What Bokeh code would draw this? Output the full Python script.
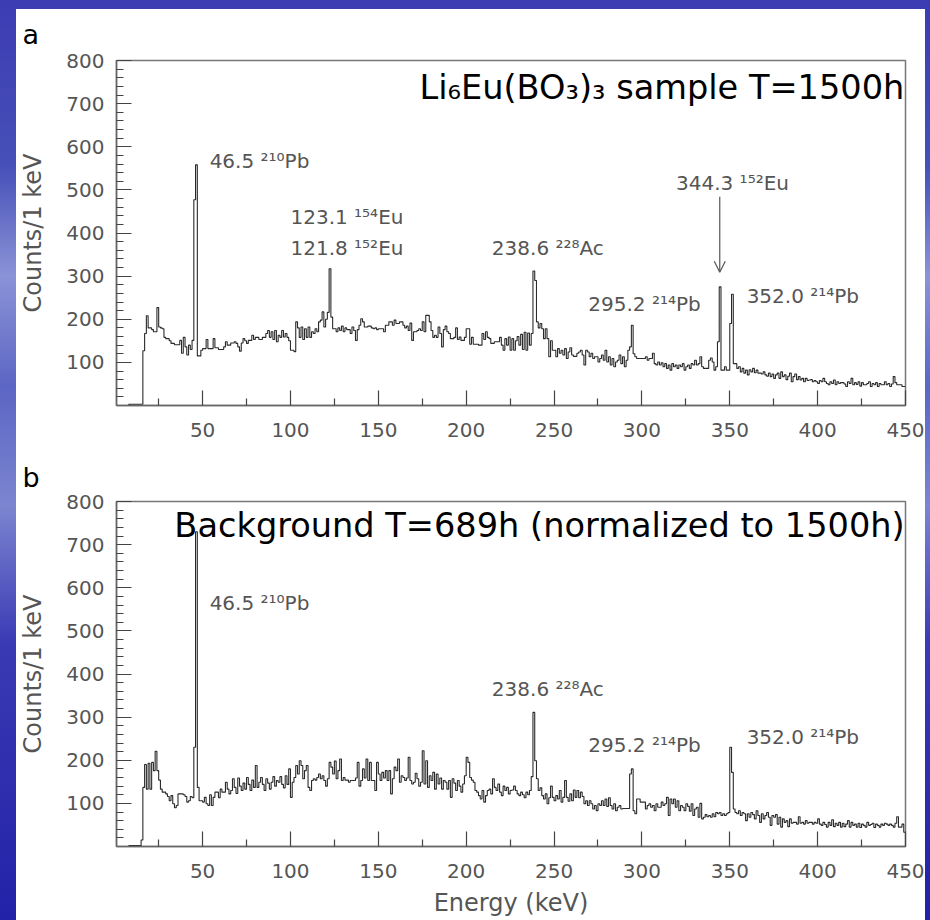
from bokeh.plotting import figure
from bokeh.layouts import column
from bokeh.models import Range1d, FixedTicker, Label, Arrow, OpenHead
from bokeh.core.properties import value
from bokeh.embed import file_html
from bokeh.resources import INLINE

# ---------------- data ----------------
first_bin_keV = 1  # lower edge of the first 1 keV bin

# Li6Eu(BO3)3 sample, T=1500h, counts per 1 keV bin (bins 1..449 keV)
sample_counts = [
    0, 0, 0, 0, 0, 0, 0, 3, 3, 3,
    3, 3, 3, 3, 3, 127, 167, 208, 180, 180,
    176, 171, 171, 227, 182, 180, 178, 158, 155, 155,
    150, 144, 144, 141, 141, 141, 151, 121, 158, 136,
    117, 140, 130, 151, 477, 558, 115, 115, 128, 132,
    132, 153, 132, 132, 132, 155, 134, 134, 130, 130,
    130, 136, 148, 140, 140, 145, 145, 148, 144, 136,
    126, 145, 155, 150, 144, 151, 151, 163, 153, 158,
    158, 153, 153, 158, 158, 167, 174, 158, 171, 153,
    174, 148, 163, 158, 174, 159, 167, 158, 150, 128,
    128, 125, 194, 180, 158, 182, 153, 178, 158, 182,
    158, 171, 167, 178, 171, 194, 198, 217, 182, 200,
    216, 317, 205, 178, 178, 171, 180, 174, 184, 171,
    180, 176, 176, 167, 182, 174, 151, 176, 186, 201,
    194, 182, 182, 184, 184, 180, 178, 180, 176, 178,
    178, 178, 171, 186, 186, 194, 194, 186, 198, 190,
    190, 194, 194, 186, 180, 184, 174, 191, 151, 171,
    171, 174, 178, 174, 194, 171, 209, 209, 194, 174,
    158, 163, 158, 182, 167, 136, 176, 184, 171, 167,
    155, 155, 158, 180, 153, 159, 151, 151, 158, 178,
    178, 142, 158, 142, 142, 142, 140, 140, 167, 153,
    171, 158, 155, 144, 144, 148, 148, 148, 158, 140,
    128, 155, 140, 159, 128, 155, 128, 150, 160, 140,
    165, 130, 170, 128, 168, 140, 167, 312, 290, 194,
    180, 190, 178, 155, 178, 155, 113, 150, 128, 128,
    113, 132, 121, 128, 117, 132, 109, 124, 134, 117,
    114, 114, 121, 124, 128, 117, 94, 128, 124, 113,
    121, 109, 113, 113, 101, 109, 117, 105, 128, 101,
    113, 94, 109, 90, 101, 105, 117, 97, 113, 90,
    105, 128, 136, 186, 120, 113, 109, 109, 109, 109,
    109, 113, 105, 109, 109, 121, 97, 94, 101, 94,
    99, 90, 97, 86, 94, 82, 97, 90, 94, 86,
    94, 90, 97, 82, 90, 94, 86, 97, 94, 105,
    94, 97, 113, 90, 86, 86, 86, 105, 110, 101,
    82, 90, 148, 275, 82, 82, 90, 82, 82, 190,
    258, 97, 97, 86, 90, 78, 86, 75, 82, 71,
    83, 78, 86, 76, 82, 75, 75, 73, 78, 71,
    68, 75, 67, 73, 63, 71, 75, 63, 78, 67,
    71, 60, 68, 75, 55, 67, 73, 60, 67, 59,
    63, 55, 63, 58, 59, 60, 55, 58, 55, 51,
    58, 55, 63, 55, 51, 48, 55, 51, 59, 48,
    55, 51, 53, 53, 50, 44, 55, 51, 63, 48,
    53, 49, 55, 45, 53, 48, 48, 51, 55, 44,
    51, 48, 53, 44, 51, 48, 48, 55, 48, 51,
    44, 50, 67, 53, 48, 48, 48, 44, 44,
]

# Background, T=689h normalized to 1500h, counts per 1 keV bin (bins 1..449 keV)
background_counts = [
    0, 0, 0, 0, 0, 0, 0, 2, 2, 2,
    2, 2, 2, 2, 15, 137, 190, 133, 193, 133,
    195, 176, 221, 176, 154, 133, 126, 126, 122, 116,
    106, 118, 99, 90, 95, 122, 122, 122, 120, 116,
    103, 106, 116, 113, 230, 730, 137, 106, 106, 103,
    114, 99, 95, 120, 95, 114, 126, 126, 113, 133,
    126, 126, 149, 133, 122, 130, 157, 137, 123, 159,
    140, 130, 147, 133, 160, 144, 130, 154, 137, 188,
    137, 149, 160, 144, 130, 157, 147, 133, 149, 162,
    140, 153, 149, 162, 144, 136, 164, 144, 180, 114,
    149, 160, 188, 168, 199, 188, 157, 176, 188, 137,
    130, 153, 157, 154, 160, 168, 157, 164, 153, 140,
    157, 195, 184, 168, 198, 157, 176, 203, 153, 160,
    154, 154, 149, 153, 153, 153, 159, 195, 140, 153,
    180, 159, 203, 153, 195, 153, 153, 130, 195, 168,
    153, 172, 159, 176, 153, 176, 122, 157, 184, 176,
    203, 149, 164, 160, 153, 159, 207, 153, 145, 149,
    170, 157, 140, 149, 222, 145, 199, 137, 164, 153,
    172, 133, 168, 145, 159, 133, 153, 149, 133, 153,
    114, 157, 147, 130, 153, 140, 126, 145, 164, 207,
    195, 160, 154, 149, 130, 126, 118, 110, 130, 103,
    118, 130, 133, 122, 157, 137, 130, 145, 126, 118,
    140, 130, 137, 122, 130, 131, 140, 130, 122, 118,
    126, 120, 113, 126, 120, 130, 162, 311, 199, 157,
    130, 136, 118, 110, 122, 99, 113, 140, 114, 106,
    118, 110, 130, 103, 114, 153, 114, 105, 122, 106,
    131, 114, 130, 113, 126, 116, 99, 106, 95, 106,
    99, 87, 95, 83, 99, 95, 106, 95, 110, 93,
    113, 95, 87, 99, 83, 91, 95, 87, 88, 88,
    88, 88, 168, 180, 83, 76, 110, 110, 103, 103,
    103, 87, 95, 99, 91, 95, 83, 99, 91, 91,
    103, 95, 99, 114, 72, 110, 99, 110, 91, 106,
    83, 95, 91, 83, 99, 93, 82, 99, 72, 87,
    91, 68, 100, 64, 68, 74, 69, 72, 68, 76,
    69, 79, 76, 79, 72, 76, 72, 76, 79, 230,
    172, 87, 79, 76, 83, 72, 79, 76, 60, 76,
    68, 79, 74, 64, 83, 72, 56, 76, 64, 72,
    79, 68, 49, 72, 68, 74, 52, 68, 45, 64,
    56, 60, 46, 64, 54, 56, 56, 52, 69, 54,
    56, 52, 60, 54, 56, 56, 52, 56, 54, 64,
    52, 49, 56, 51, 45, 56, 49, 62, 46, 54,
    49, 56, 45, 54, 46, 52, 60, 45, 56, 49,
    52, 45, 54, 44, 52, 49, 45, 56, 49, 51,
    54, 44, 52, 49, 45, 52, 49, 54, 52, 49,
    52, 49, 45, 54, 69, 45, 45, 52, 33,
]

x_major_ticks = [50, 100, 150, 200, 250, 300, 350, 400, 450]
x_minor_ticks = [25, 75, 125, 175, 225, 275, 325, 375, 425]
y_major_ticks = [100, 200, 300, 400, 500, 600, 700, 800]
y_minor_ticks = [v for v in range(20, 800, 20) if v % 100]

# peak annotations (text, anchor energy, anchor counts)
sample_peak_text = ["46.5 ²¹⁰Pb", "123.1 ¹⁵⁴Eu", "121.8 ¹⁵²Eu", "238.6 ²²⁸Ac",
                    "295.2 ²¹⁴Pb", "344.3 ¹⁵²Eu", "352.0 ²¹⁴Pb"]
sample_peak_x = [54.0, 100.0, 100.0, 214.6, 269.5, 319.4, 359.6]
sample_peak_y = [567, 436, 366, 366, 235, 515, 255]

background_peak_text = ["46.5 ²¹⁰Pb", "238.6 ²²⁸Ac", "295.2 ²¹⁴Pb", "352.0 ²¹⁴Pb"]
background_peak_x = [54.0, 214.6, 269.5, 359.6]
background_peak_y = [565, 365, 236, 254]

arrow_energy = 344.3
arrow_from_counts = 484
arrow_to_counts = 309

sample_title = "Li₆Eu(BO₃)₃ sample T=1500h"
background_title = "Background T=689h (normalized to 1500h)"

# ---------------- styling ----------------
FONT = "DejaVu Sans"
GRAY = "#555555"


def make_panel(counts, height, border_top, border_bottom, show_xlabel, letter, letter_standoff):
    p = figure(width=909, height=height, output_backend="svg", toolbar_location=None,
               x_range=Range1d(1, 450), y_range=Range1d(0, 800),
               min_border_left=96, min_border_right=20,
               min_border_top=border_top, min_border_bottom=border_bottom)
    p.background_fill_color = "white"
    p.border_fill_color = "white"
    p.outline_line_color = "#777777"
    p.outline_line_width = 1.5
    p.xgrid.visible = False
    p.ygrid.visible = False

    p.title.text = letter
    p.title.align = "left"
    p.title.vertical_align = "top"
    p.title.offset = -94
    p.title.standoff = letter_standoff
    p.title.text_line_height = 1.0
    p.title.text_font = FONT
    p.title.text_font_size = "27px"
    p.title.text_font_style = "normal"
    p.title.text_color = "black"

    edges = [first_bin_keV + i for i in range(len(counts) + 1)]
    p.step(x=edges, y=list(counts) + [counts[-1]], mode="after",
           line_color="#2a2a2a", line_width=1.1)

    xa = p.xaxis[0]
    xa.ticker = FixedTicker(ticks=x_major_ticks, minor_ticks=x_minor_ticks)
    ya = p.yaxis[0]
    ya.ticker = FixedTicker(ticks=y_major_ticks, minor_ticks=y_minor_ticks)
    for ax in (xa, ya):
        ax.axis_line_color = "#666666"
        ax.axis_line_width = 1.5
        ax.major_tick_in = 15
        ax.major_tick_out = 0
        ax.minor_tick_in = 7
        ax.minor_tick_out = 0
        ax.major_tick_line_color = "#444444"
        ax.minor_tick_line_color = "#444444"
        ax.major_tick_line_width = 1.2
        ax.minor_tick_line_width = 1.2
        ax.major_label_text_font = FONT
        ax.major_label_text_font_size = "20px"
        ax.major_label_text_color = GRAY
        ax.axis_label_text_font = FONT
        ax.axis_label_text_font_size = "24px"
        ax.axis_label_text_font_style = "normal"
        ax.axis_label_text_color = GRAY
    ya.major_label_standoff = 12
    xa.major_label_standoff = 17
    ya.axis_label = "Counts/1 keV"
    ya.axis_label_standoff = 16
    if show_xlabel:
        xa.axis_label = "Energy (keV)"
        xa.axis_label_standoff = 8
    return p


p1 = make_panel(sample_counts, 446, 50, 50, False, "a", 18)
p2 = make_panel(background_counts, 465, 45, 74, True, "b", 13)

for p, texts, xs, ys in ((p1, sample_peak_text, sample_peak_x, sample_peak_y),
                         (p2, background_peak_text, background_peak_x, background_peak_y)):
    p.text(x=xs, y=ys, text=texts, text_font=value(FONT), text_font_size="20px",
           text_color=GRAY, text_align="left", text_baseline="middle")

p1.add_layout(Arrow(end=OpenHead(size=11, line_color=GRAY, line_width=1.2),
                    x_start=arrow_energy, y_start=arrow_from_counts,
                    x_end=arrow_energy, y_end=arrow_to_counts,
                    line_color=GRAY, line_width=1.2))

p1.add_layout(Label(x=449.3, y=738, text=sample_title, text_align="right",
                    text_baseline="alphabetic", text_font=FONT,
                    text_font_size="33.6px", text_color="black"))
p2.add_layout(Label(x=449.5, y=744, text=background_title, text_align="right",
                    text_baseline="alphabetic", text_font=FONT,
                    text_font_size="33.6px", text_color="black"))

inner = column(p1, p2, spacing=0, styles={"background": "white"})
inner.margin = (9, 5, 0, 16)

layout = column(inner, spacing=0, styles={
    "background": "linear-gradient(180deg, #3c3cb2 0%, #4650b8 18%, #8a93d6 30%, "
                  "#5c66c4 42%, #7b85d0 55%, #3a3ab4 70%, #2222a8 100%)",
})

open("out.html", "w").write(file_html(layout, INLINE))
